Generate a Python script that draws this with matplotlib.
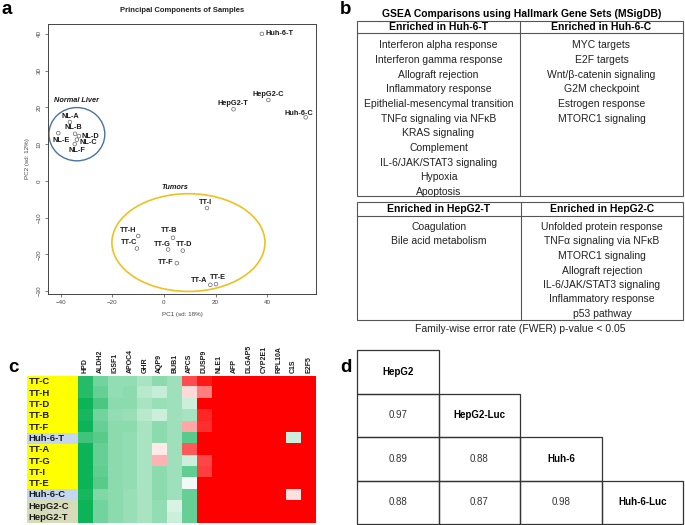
import matplotlib
matplotlib.use("Agg")
import matplotlib.pyplot as plt
from matplotlib.patches import Ellipse, Rectangle
from matplotlib.colors import LinearSegmentedColormap
import numpy as np

plt.rcParams['font.family'] = ['Liberation Sans', 'DejaVu Sans']

# ---------------- Panel a: PCA ----------------
pca_labels = ["Huh-6-T", "HepG2-C", "HepG2-T", "Huh-6-C",
              "NL-A", "NL-B", "NL-D", "NL-E", "NL-C", "NL-F",
              "TT-I", "TT-H", "TT-B", "TT-C", "TT-G", "TT-D", "TT-F", "TT-A", "TT-E"]
pc1 = [38.0, 40.5, 27.0, 55.0,
       -36.5, -34.5, -33.0, -41.0, -33.8, -34.6,
       16.7, -10.0, 3.5, -10.5, 1.6, 7.3, 5.0, 18.0, 20.2]
pc2 = [40.0, 22.0, 19.5, 17.3,
       16.0, 12.8, 12.2, 13.0, 11.2, 10.0,
       -7.4, -15.0, -15.5, -18.4, -18.7, -19.0, -22.4, -28.3, -28.1]
pca_xticks = [-40, -20, 0, 20, 40]
pca_yticks = [-30, -20, -10, 0, 10, 20, 30, 40]

# label placement (pixel offsets, horizontal alignment)
label_place = {
    "Huh-6-T": (4, 0, 'left'), "HepG2-C": (0, -6, 'center'), "HepG2-T": (-1, -6, 'center'),
    "Huh-6-C": (-7, -4, 'center'), "NL-A": (0, -6, 'center'), "NL-B": (-2, -6, 'center'),
    "NL-D": (3, 0, 'left'), "NL-E": (3, 7, 'center'), "NL-C": (3, 3, 'left'),
    "NL-F": (2, 6, 'center'), "TT-I": (-2, -6, 'center'), "TT-H": (-10, -5, 'center'),
    "TT-B": (-4, -7, 'center'), "TT-C": (-8, -6, 'center'), "TT-G": (-6, -5, 'center'),
    "TT-D": (1, -6, 'center'), "TT-F": (-11, -1, 'center'), "TT-A": (-11, -4, 'center'),
    "TT-E": (2, -7, 'center'),
}

# ---------------- Panel b: GSEA tables ----------------
b_title = "GSEA Comparisons using Hallmark Gene Sets (MSigDB)"
t1_headers = ["Enriched in Huh-6-T", "Enriched in Huh-6-C"]
t1_left = ["Interferon alpha response", "Interferon gamma response", "Allograft rejection",
           "Inflammatory response", "Epithelial-mesencymal transition",
           "TNFα signaling via NFκB", "KRAS signaling", "Complement",
           "IL-6/JAK/STAT3 signaling", "Hypoxia", "Apoptosis"]
t1_right = ["MYC targets", "E2F targets", "Wnt/β-catenin signaling", "G2M checkpoint",
            "Estrogen response", "MTORC1 signaling"]
t2_headers = ["Enriched in HepG2-T", "Enriched in HepG2-C"]
t2_left = ["Coagulation", "Bile acid metabolism"]
t2_right = ["Unfolded protein response", "TNFα signaling via NFκB", "MTORC1 signaling",
            "Allograft rejection", "IL-6/JAK/STAT3 signaling", "Inflammatory response",
            "p53 pathway"]
b_footer = "Family-wise error rate (FWER) p-value < 0.05"

# ---------------- Panel c: heatmap ----------------
heat_rows = ["TT-C", "TT-H", "TT-D", "TT-B", "TT-F", "Huh-6-T", "TT-A", "TT-G",
             "TT-I", "TT-E", "Huh-6-C", "HepG2-C", "HepG2-T"]
row_groups = ["TT", "TT", "TT", "TT", "TT", "Huh", "TT", "TT", "TT", "TT", "Huh", "HepG2", "HepG2"]
heat_cols = ["HPD", "ALDH2", "IGSF1", "APOC4", "GHR", "AQP9", "BUB1", "APCS", "DUSP9",
             "NLE1", "AFP", "DLGAP5", "CYP2E1", "RPL10A", "C1S", "E2F5"]
heat_values = [
    [-0.85, -0.55, -0.42, -0.42, -0.34, -0.45, -0.38, 0.70, 0.90, 1, 1, 1, 1, 1, 1.00, 1],
    [-0.85, -0.60, -0.42, -0.45, -0.28, -0.22, -0.38, 0.15, 0.50, 1, 1, 1, 1, 1, 1.00, 1],
    [-0.95, -0.70, -0.45, -0.45, -0.34, -0.40, -0.38, -0.20, 1.00, 1, 1, 1, 1, 1, 1.00, 1],
    [-0.90, -0.55, -0.42, -0.40, -0.28, -0.20, -0.38, -0.35, 0.85, 1, 1, 1, 1, 1, 1.00, 1],
    [-0.95, -0.60, -0.45, -0.45, -0.34, -0.45, -0.38, 0.35, 0.82, 1, 1, 1, 1, 1, 1.00, 1],
    [-0.75, -0.65, -0.45, -0.42, -0.34, -0.45, -0.38, -0.65, 1.00, 1, 1, 1, 1, 1, -0.20, 1],
    [-0.95, -0.60, -0.45, -0.42, -0.34, 0.08, -0.38, 0.65, 1.00, 1, 1, 1, 1, 1, 1.00, 1],
    [-0.95, -0.60, -0.45, -0.42, -0.34, 0.30, -0.38, -0.20, 0.72, 1, 1, 1, 1, 1, 1.00, 1],
    [-0.95, -0.62, -0.45, -0.42, -0.34, -0.45, -0.38, -0.62, 0.75, 1, 1, 1, 1, 1, 1.00, 1],
    [-0.95, -0.65, -0.45, -0.42, -0.34, -0.45, -0.38, -0.05, 1.00, 1, 1, 1, 1, 1, 1.00, 1],
    [-0.90, -0.50, -0.45, -0.40, -0.34, -0.45, -0.38, -0.60, 1.00, 1, 1, 1, 1, 1, 0.12, 1],
    [-0.95, -0.55, -0.45, -0.40, -0.34, -0.42, -0.15, -0.60, 1.00, 1, 1, 1, 1, 1, 1.00, 1],
    [-0.95, -0.55, -0.45, -0.40, -0.34, -0.42, -0.20, -0.60, 1.00, 1, 1, 1, 1, 1, 1.00, 1],
]
group_colors = {"TT": "#FFFF00", "Huh": "#C5D7EE", "HepG2": "#D6DBB9"}

# ---------------- Panel d: correlation triangle ----------------
cell_lines = ["HepG2", "HepG2-Luc", "Huh-6", "Huh-6-Luc"]
corr_values = [[], [0.97], [0.89, 0.88], [0.88, 0.87, 0.98]]

# ================= figure =================
W, H = 685, 525
fig = plt.figure(figsize=(W / 100, H / 100), dpi=100)


def fr(l, t, r, b):
    return [l / W, 1 - b / H, (r - l) / W, (b - t) / H]


over = fig.add_axes([0, 0, 1, 1])
over.set_xlim(0, W)
over.set_ylim(H, 0)
over.axis('off')

# panel letters
for letter, (x, y) in {"a": (7, 10), "b": (346, 9), "c": (13, 367), "d": (346, 367)}.items():
    over.text(x, y, letter, fontsize=13.5, fontweight='bold', ha='center', va='center')

# ---- Panel a ----
ax = fig.add_axes(fr(48, 24, 316, 294))
ax.set_xlim(-45, 59)
ax.set_ylim(-30.8, 42.7)
ax.scatter(pc1, pc2, s=7, facecolors='none', edgecolors='#666666', linewidths=0.5, zorder=3)
for lab, x, y in zip(pca_labels, pc1, pc2):
    dx, dy, ha = label_place[lab]
    ax.annotate(lab, (x, y), xytext=(dx * 0.72, -dy * 0.72), textcoords='offset points',
                ha=ha, va='center', fontsize=5.3, fontweight='bold', color='#1a1a1a')
ax.add_patch(Ellipse((-33.8, 12.7), 21.7, 14.5, fill=False, edgecolor='#4A72A0', lw=1.0))
ax.add_patch(Ellipse((9.5, -16.8), 59.4, 26.6, fill=False, edgecolor='#F0C020', lw=1.2))
ax.text(-33.8, 21.9, "Normal Liver", fontsize=5.3, fontweight='bold', style='italic',
        ha='center', va='center', color='#1a1a1a')
ax.text(4.3, -1.9, "Tumors", fontsize=5.3, fontweight='bold', style='italic',
        ha='center', va='center', color='#1a1a1a')
ax.set_xticks(pca_xticks)
ax.set_yticks(pca_yticks)
ax.tick_params(labelsize=4.5, colors='#444444', length=2.5, width=0.5, pad=2)
for t in ax.get_yticklabels():
    t.set_rotation(90)
    t.set_va('center')
for s in ax.spines.values():
    s.set_linewidth(0.7)
    s.set_color('#444444')
ax.set_xlabel("PC1 (sd: 18%)", fontsize=4.5, color='#444444', labelpad=5)
ax.set_ylabel("PC2 (sd: 12%)", fontsize=4.5, color='#444444', labelpad=5)
over.text(182, 10, "Principal Components of Samples", fontsize=5.5, fontweight='bold',
          ha='center', va='center', color='#222222')

# ---- Panel b ----
lc = '#555555'
over.text(522, 14, b_title, fontsize=7.5, fontweight='bold', ha='center', va='center')
# table 1
L, R = 357, 683
over.add_patch(Rectangle((L, 21), R - L, 196 - 21, fill=False, edgecolor=lc, lw=0.8))
over.plot([L, R], [33, 33], color=lc, lw=0.8)
over.plot([520, 520], [21, 196], color=lc, lw=0.8)
cL, cR = (L + 520) / 2, (520 + R) / 2
over.text(cL, 27.5, t1_headers[0], fontsize=7.5, fontweight='bold', ha='center', va='center')
over.text(cR, 27.5, t1_headers[1], fontsize=7.5, fontweight='bold', ha='center', va='center')
for i, s in enumerate(t1_left):
    over.text(cL, 45.5 + i * 14.65, s, fontsize=7.5, ha='center', va='center', color='#222222')
for i, s in enumerate(t1_right):
    over.text(cR, 45.5 + i * 14.65, s, fontsize=7.5, ha='center', va='center', color='#222222')
# table 2
over.add_patch(Rectangle((L, 202), R - L, 320 - 202, fill=False, edgecolor=lc, lw=0.8))
over.plot([L, R], [216, 216], color=lc, lw=0.8)
over.plot([521, 521], [202, 320], color=lc, lw=0.8)
cL2, cR2 = (L + 521) / 2, (521 + R) / 2
over.text(cL2, 209.5, t2_headers[0], fontsize=7.5, fontweight='bold', ha='center', va='center')
over.text(cR2, 209.5, t2_headers[1], fontsize=7.5, fontweight='bold', ha='center', va='center')
for i, s in enumerate(t2_left):
    over.text(cL2, 227 + i * 14.5, s, fontsize=7.5, ha='center', va='center', color='#222222')
for i, s in enumerate(t2_right):
    over.text(cR2, 227 + i * 14.5, s, fontsize=7.5, ha='center', va='center', color='#222222')
over.text(520, 328.5, b_footer, fontsize=7.5, ha='center', va='center', color='#222222')

# ---- Panel c ----
hx = fig.add_axes(fr(27, 376, 316, 523))
ncol, nrow = len(heat_cols), len(heat_rows)
lab_w = 51 / ((316 - 78) / ncol)
cmap = LinearSegmentedColormap.from_list("gwr", ["#00B04F", "#FFFFFF", "#FF0000"])
hx.imshow(np.array(heat_values), cmap=cmap, vmin=-1, vmax=1, aspect='auto',
          extent=(0, ncol, nrow, 0), interpolation='nearest')
hx.set_xlim(-lab_w, ncol)
hx.set_ylim(nrow, 0)
hx.axis('off')
for i, (r, g) in enumerate(zip(heat_rows, row_groups)):
    hx.add_patch(Rectangle((-lab_w, i), lab_w, 1, facecolor=group_colors[g], edgecolor='none'))
    hx.text(-lab_w + 0.12, i + 0.52, r, fontsize=6.8, fontweight='bold', ha='left', va='center',
            color='#1a1a1a')
for j, c in enumerate(heat_cols):
    hx.text(j + 0.5, -0.25, c, rotation=90, fontsize=5, fontweight='bold', ha='center',
            va='bottom', color='#1a1a1a', clip_on=False)

# ---- Panel d ----
xe = [357, 439, 520, 602, 683]
ye = [350, 393.5, 437, 480.5, 524]
for i in range(len(cell_lines)):
    for j in range(i + 1):
        over.add_patch(Rectangle((xe[j], ye[i]), xe[j + 1] - xe[j], ye[i + 1] - ye[i],
                                 fill=False, edgecolor='#333333', lw=0.9))
        cx, cy = (xe[j] + xe[j + 1]) / 2, (ye[i] + ye[i + 1]) / 2
        if i == j:
            over.text(cx, cy, cell_lines[i], fontsize=7, fontweight='bold', ha='center', va='center')
        else:
            over.text(cx, cy, f"{corr_values[i][j]:.2f}", fontsize=7, ha='center', va='center',
                      color='#333333')

fig.savefig("out.png", dpi=100)
